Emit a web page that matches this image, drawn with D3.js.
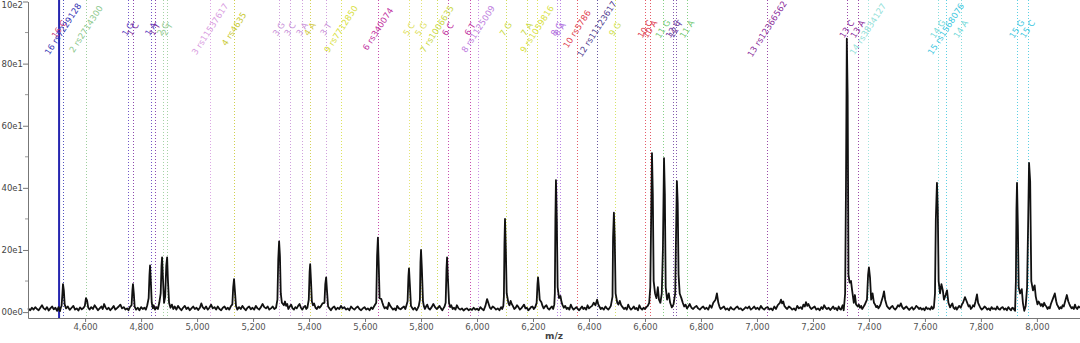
<!DOCTYPE html>
<html><head><meta charset="utf-8">
<script src="https://cdn.jsdelivr.net/npm/d3@7/dist/d3.min.js"></script>
<style>html,body{margin:0;padding:0;background:#fff;overflow:hidden}</style>
</head><body>
<svg id="chart" width="1080" height="343"></svg>
<script>
// ---- data ----
const xDomain = [4396, 8154];
const yDomain = [-19, 1000];
const xTickValues = [4600,4800,5000,5200,5400,5600,5800,6000,6200,6400,6600,6800,7000,7200,7400,7600,7800,8000];
const yTickValues = [0,200,400,600,800,1000];
const yMinorTickValues = [100,300,500,700,900];
const yTickLabels = ["00e0","20e1","40e1","60e1","80e1","10e2"];
const xAxisTitle = "m/z";

const markerMz = [4507,4521,4603,4753,4771,4835,4849,4878,4893,5046,5132,5292,5332,5375,5403,5460,5514,5646,5757,5800,5857,5896,5975,6004,6103,6178,6214,6285,6296,6357,6428,6493,6600,6618,6664,6700,6710,6750,7036,7321,7360,7396,7646,7675,7728,7928,7967];
const markerLabels = ["16 C","16 rs7229128","2 rs2714300","1 G","1 C","1 A","1 T","2 C","2 T","3 rs11537617","4 rs4635","3 G","3 C","3 A","4 A","3 T","9 rs7712850","6 rs340074","5 C","5 G","7 rs1006635","6 C","6 T","8 rs1125009","7 G","7 A","9 rs1059816","8 G","8 A","10 rs5786","12 rs11123617","9 G","10 C","10 A","11 G","12 C","12 T","11 A","13 rs12366562","13 C","13 A","14 rs3834127","14 G","15 rs1568076","14 A","15 G","15 C"];
const markerColors = ["#c8407a","#3434b4","#8cc88c","#5a3cc0","#7a2aa0","#5a3cc0","#7a2aa0","#96cc96","#96cc96","#d89ae0","#c8c830","#c890d8","#c890d8","#c890d8","#d0c840","#c890d8","#d8e040","#c030a0","#e0e060","#e0e060","#c8d840","#c030a0","#c030a0","#c080e0","#c8d840","#c8d840","#d8e040","#b070e0","#b070e0","#e04050","#503c90","#d0e050","#e04050","#e04050","#70c870","#7040a0","#7040a0","#70c870","#8a2a9a","#8a2a9a","#8a2a9a","#90e0d8","#70d8d8","#40c8e0","#70d8d8","#40c8e0","#40c8e0"];
const selectedMarker = [4507];

const spectrum = [
[4396,12],[4404,6],[4410,14],[4416,8],[4422,16],[4428,10],[4434,6],[4440,14],[4446,22],[4452,12],[4458,8],[4464,16],[4470,5],[4476,12],[4482,18],[4488,9],[4494,14],[4500,4],[4505,16],[4510,3],[4513,14],
[4516,20],[4519,60],[4521,90],[4524,70],[4527,25],[4532,12],
[4538,18],[4545,7],[4552,14],[4558,20],[4564,8],[4570,12],[4576,5],[4582,15],[4588,9],[4594,13],
[4599,20],[4603,45],[4607,38],[4611,15],
[4616,8],[4622,16],[4628,10],[4634,22],[4640,14],[4646,6],[4652,12],[4658,18],[4663,10],[4668,26],[4673,15],[4678,9],[4684,14],[4690,6],[4696,12],[4702,20],[4708,8],[4714,13],[4720,18],[4726,24],[4732,12],[4738,16],[4744,8],[4750,12],[4755,6],[4760,16],
[4766,22],[4769,70],[4771,90],[4774,60],[4777,18],
[4782,8],[4788,14],[4794,6],[4800,16],[4806,10],[4812,14],[4817,8],[4822,22],
[4827,45],[4830,120],[4832,150],[4835,95],[4838,30],[4842,12],[4845,22],[4850,8],[4855,16],[4860,10],[4865,30],
[4870,60],[4873,150],[4875,176],[4878,110],[4882,30],[4886,50],[4890,150],[4893,176],[4896,100],[4900,30],
[4905,14],[4910,24],[4915,10],[4920,18],[4926,8],[4932,20],[4938,12],[4944,6],[4950,14],[4956,20],[4962,10],[4968,15],[4974,6],[4980,12],[4986,18],[4992,10],[4998,14],[5004,7],[5010,14],[5015,28],[5020,16],[5026,10],[5032,18],[5038,8],[5044,14],[5050,24],[5056,12],[5062,16],[5068,8],[5074,18],[5080,10],[5086,6],[5092,14],[5098,18],[5104,9],[5110,14],[5115,8],[5120,18],
[5126,25],[5129,80],[5132,106],[5135,70],[5139,20],
[5144,8],[5150,16],[5156,10],[5162,20],[5168,12],[5174,6],[5180,14],[5186,18],[5192,9],[5198,14],[5204,8],[5210,20],[5216,12],[5222,8],[5228,16],[5234,26],[5240,16],[5246,12],[5252,18],[5258,8],[5264,12],[5270,18],[5276,10],[5282,14],
[5287,40],[5290,170],[5293,228],[5296,180],[5299,60],[5303,30],[5310,22],[5314,34],[5318,20],[5322,26],[5326,10],[5331,18],[5336,24],[5341,12],[5346,8],[5351,16],[5356,12],[5361,20],[5366,26],[5371,14],[5376,8],[5381,16],[5386,20],[5390,10],[5394,14],
[5399,40],[5402,130],[5404,154],[5407,100],[5410,35],[5414,22],[5418,28],[5423,14],[5428,10],[5433,18],[5438,14],[5443,20],[5448,28],
[5455,30],[5458,90],[5461,112],[5464,70],[5468,18],
[5473,12],[5478,6],[5484,14],[5490,18],[5496,8],[5502,14],[5508,10],[5514,20],[5520,12],[5526,16],[5532,8],[5538,12],[5544,6],[5550,18],[5556,12],[5562,8],[5568,14],[5574,18],[5580,10],[5586,6],[5592,12],[5598,16],[5604,8],[5610,12],[5616,6],[5622,15],[5627,10],[5632,18],
[5640,30],[5643,180],[5646,240],[5649,150],[5652,45],[5658,42],[5662,30],[5665,22],[5670,12],[5675,16],[5680,10],[5685,30],[5690,20],[5695,14],[5700,8],[5705,12],[5710,6],[5715,20],[5721,12],[5727,9],[5733,14],[5739,18],[5744,10],[5748,22],
[5752,35],[5755,115],[5757,141],[5760,90],[5764,20],[5768,14],[5772,8],[5778,14],[5784,6],[5788,12],[5792,20],
[5796,40],[5798,160],[5800,200],[5803,140],[5807,35],[5810,20],[5814,10],[5818,18],[5822,24],[5827,12],[5832,8],[5838,16],[5844,26],[5850,16],[5856,10],[5861,14],[5866,20],[5871,12],[5876,6],[5880,12],[5884,18],
[5888,30],[5891,140],[5893,176],[5896,110],[5900,30],[5904,16],[5908,22],[5913,10],[5918,14],[5923,8],[5928,22],[5934,12],[5940,8],[5946,12],[5952,5],[5958,10],[5964,12],[5970,6],[5976,10],[5982,7],[5988,14],[5994,8],[6000,11],[6006,6],[6012,16],[6018,10],[6024,6],
[6030,20],[6036,42],[6042,25],[6046,14],[6050,10],[6056,18],[6062,14],[6068,8],[6074,12],[6080,6],[6086,16],[6090,10],[6094,20],
[6096,50],[6098,220],[6100,300],[6103,200],[6106,60],[6112,30],[6116,22],[6120,36],[6124,26],[6128,20],[6133,10],[6138,14],[6143,22],[6148,16],[6153,8],[6158,12],[6163,18],[6168,24],[6173,12],[6178,14],[6183,6],[6188,10],[6193,16],[6198,18],[6203,10],[6208,16],
[6213,30],[6216,90],[6218,112],[6221,80],[6224,40],[6230,32],[6234,20],[6238,12],[6243,18],[6248,22],[6253,12],[6258,8],[6263,14],[6268,18],[6272,10],[6276,24],
[6278,60],[6280,300],[6282,425],[6285,300],[6288,80],[6293,45],[6298,52],[6302,32],[6305,24],[6310,14],[6315,20],[6320,10],[6325,14],[6330,8],[6335,24],[6340,14],[6345,8],[6350,12],[6355,16],[6360,10],[6365,6],[6370,12],[6375,18],[6380,10],[6385,14],[6390,8],[6395,22],[6400,12],[6405,16],[6411,20],[6417,30],[6423,22],[6429,40],[6433,26],[6437,18],[6442,10],[6447,14],[6453,8],[6459,18],[6464,12],[6469,8],[6474,14],[6478,20],
[6484,50],[6486,240],[6489,320],[6492,240],[6495,60],[6501,30],[6505,24],[6510,36],[6515,22],[6520,16],[6525,10],[6530,14],[6535,8],[6540,24],[6545,14],[6550,8],[6555,12],[6560,18],[6565,10],[6570,13],[6575,6],[6580,22],[6585,12],[6590,8],[6595,14],[6600,10],[6605,16],[6610,20],
[6615,30],[6619,80],[6622,300],[6625,512],[6628,380],[6631,100],[6636,60],[6641,45],[6646,80],[6650,40],[6655,30],[6660,60],
[6664,200],[6668,496],[6671,380],[6674,80],[6679,40],[6685,60],[6690,30],[6696,15],[6702,25],[6708,60],
[6711,250],[6714,422],[6717,350],[6720,120],[6724,60],[6730,45],[6735,30],[6740,18],[6745,24],[6750,12],[6755,18],[6760,26],[6766,14],[6772,10],[6778,16],[6784,20],[6790,12],[6796,8],[6802,14],[6808,18],[6814,10],[6820,14],[6826,8],[6832,22],[6838,14],[6844,30],
[6852,40],[6857,60],[6862,30],[6866,18],[6870,10],[6876,14],[6882,18],[6888,8],[6894,12],[6900,6],[6906,16],[6912,10],[6918,8],[6924,14],[6930,18],[6936,10],[6942,12],[6948,6],[6954,10],[6960,16],[6966,12],[6972,18],[6978,8],[6984,12],[6990,18],[6996,10],[7002,14],[7008,8],[7014,20],[7020,12],[7026,8],[7032,14],[7038,16],[7044,8],[7050,12],[7056,6],[7062,18],[7068,10],[7074,22],
[7082,30],[7086,40],[7090,28],[7094,34],[7098,20],[7103,14],[7108,10],[7114,18],[7120,14],[7126,8],[7132,12],[7138,6],[7144,20],[7150,12],[7156,16],[7161,10],[7166,24],[7171,18],[7175,32],[7180,20],[7184,26],[7189,16],[7194,10],[7200,14],[7206,18],[7212,8],[7218,12],[7224,6],[7230,16],[7235,10],[7240,22],[7245,14],[7250,10],[7256,14],[7262,7],[7267,12],[7272,18],[7277,10],[7282,13],[7287,6],[7292,18],[7296,10],[7300,8],[7306,22],[7310,6],
[7315,60],[7318,400],[7321,880],[7324,700],[7327,120],
[7331,95],[7336,100],[7340,70],[7346,30],[7350,55],[7354,25],[7360,18],[7364,24],[7368,14],[7372,20],[7376,10],[7380,16],[7384,22],
[7393,40],[7397,120],[7400,144],[7404,110],[7408,40],[7413,60],[7418,30],[7422,24],[7426,16],[7430,20],[7434,12],[7438,18],[7442,26],
[7450,50],[7454,67],[7458,40],[7464,20],[7469,14],[7474,10],[7479,16],[7484,20],[7489,12],[7494,8],[7499,14],[7504,22],[7509,18],[7514,28],[7519,16],[7524,10],[7529,14],[7534,18],[7539,12],[7544,7],[7549,12],[7554,16],[7559,8],[7564,12],[7569,20],[7574,16],[7579,10],[7584,14],[7589,8],[7594,12],[7599,6],[7604,16],[7609,10],[7614,12],[7619,8],[7624,18],[7628,10],[7632,14],
[7636,60],[7639,300],[7643,416],[7646,330],[7649,100],[7654,60],[7659,90],[7664,70],[7668,40],[7674,55],[7679,70],[7684,30],[7690,15],[7694,22],[7698,28],[7702,14],[7706,10],[7710,16],[7714,8],[7718,14],[7722,20],
[7728,14],[7732,24],[7736,30],[7743,48],[7749,35],[7756,18],[7760,22],[7764,10],[7768,14],[7772,22],
[7776,18],[7781,35],[7786,57],[7790,30],[7794,22],[7798,14],[7803,8],[7808,12],[7813,18],[7818,14],[7823,8],[7828,12],[7833,6],[7838,16],[7843,10],[7848,12],[7853,8],[7858,18],[7863,10],[7868,8],[7873,14],[7878,16],[7883,8],[7888,12],[7893,6],[7898,16],[7903,10],[7908,6],[7912,14],[7916,12],[7922,4],
[7925,100],[7927,330],[7929,416],[7932,280],[7935,80],[7940,60],[7946,74],[7950,30],[7955,4],[7960,20],[7965,80],
[7969,300],[7972,480],[7976,420],[7980,100],[7986,70],[7992,86],[7996,50],[8002,25],[8006,34],[8010,28],[8014,20],[8018,26],[8022,18],[8026,30],[8030,22],[8034,18],[8038,10],[8042,16],[8046,12],[8050,26],
[8058,45],[8064,60],[8069,35],[8072,24],[8076,18],[8080,10],[8084,16],[8088,12],[8092,22],[8096,18],[8100,32],
[8104,45],[8107,55],[8112,35],[8116,26],[8120,18],[8124,12],[8128,16],[8132,10],[8136,24],[8140,14],[8144,10],[8149,18],[8154,14]
];

// ---- drawing ----
(function(){
const svg = d3.select("#chart");
const padL = 28, padR = 1080, padT = 1.5, padB = 318;
const x = d3.scaleLinear().domain(xDomain).range([padL, padR]);
const y = d3.scaleLinear().domain(yDomain).range([padB, padT]);

const markers = markerMz.map((m,i)=>({mz:m,label:markerLabels[i],color:markerColors[i]}));
svg.append("g").selectAll("line").data(markers).join("line")
  .attr("x1",d=>Math.round(x(d.mz))+0.5).attr("x2",d=>Math.round(x(d.mz))+0.5)
  .attr("y1",0).attr("y2",padB)
  .attr("stroke",d=>d.color).attr("stroke-width",1)
  .attr("stroke-dasharray","1,2").attr("opacity",0.85);

svg.append("g").selectAll("line").data(selectedMarker).join("line")
  .attr("x1",d=>x(d)).attr("x2",d=>x(d)).attr("y1",0).attr("y2",padB)
  .attr("stroke","#2626b0").attr("stroke-width",2);

const line = d3.line().x(d=>x(d[0])).y(d=>y(d[1]));
svg.append("path").datum(spectrum).attr("d",line)
  .attr("fill","none").attr("stroke","#111").attr("stroke-width",1.8).attr("stroke-linejoin","round");

svg.append("g").selectAll("text").data(markers).join("text")
  .attr("transform",d=>`translate(${x(d.mz)},29) rotate(-57)`)
  .attr("text-anchor","middle").attr("dy","0.35em")
  .attr("font-family","DejaVu Sans, sans-serif").attr("font-size",8.5)
  .attr("fill",d=>d.color).text(d=>d.label);

const xAxis = d3.axisBottom(x).tickValues(xTickValues).tickFormat(d3.format(",")).tickSize(4).tickSizeOuter(0);
const gx = svg.append("g").attr("transform",`translate(0,${padB})`).call(xAxis);
gx.select(".domain").attr("stroke","#777");
gx.selectAll(".tick line").attr("stroke","#777");
gx.selectAll("text").attr("font-family","DejaVu Sans, sans-serif").attr("font-size",8.5).attr("fill","#555").attr("dy","0.6em");

const yAxis = d3.axisLeft(y).tickValues(yTickValues).tickFormat((d,i)=>yTickLabels[i]).tickSize(5).tickSizeOuter(0);
const gy = svg.append("g").attr("transform",`translate(${padL},0)`).call(yAxis);
gy.select(".domain").attr("stroke","#777");
gy.selectAll(".tick line").attr("stroke","#777");
gy.selectAll("text").attr("font-family","DejaVu Sans, sans-serif").attr("font-size",8.5).attr("fill","#444").attr("x",-5);
gy.selectAll(".tick text").filter(d=>d===1000).attr("dy","0.75em");

svg.append("g").selectAll("line").data(yMinorTickValues).join("line")
  .attr("x1",padL-3).attr("x2",padL).attr("y1",d=>y(d)).attr("y2",d=>y(d))
  .attr("stroke","#999");

svg.append("text").attr("x",(padL+padR)/2).attr("y",339).attr("text-anchor","middle")
  .attr("font-family","DejaVu Sans, sans-serif").attr("font-size",9).attr("font-weight","bold").attr("fill","#444")
  .text(xAxisTitle);
})();
</script>
</body></html>
